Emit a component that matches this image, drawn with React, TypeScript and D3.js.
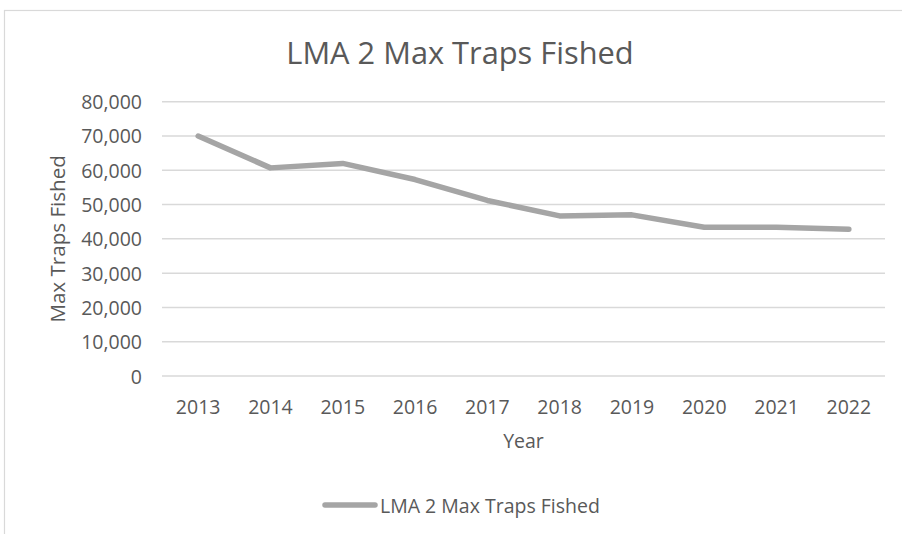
import React from "react";
import * as d3 from "d3";

const years = ["2013", "2014", "2015", "2016", "2017", "2018", "2019", "2020", "2021", "2022"];
const maxTraps = [70000, 60700, 62000, 57300, 51200, 46700, 47000, 43400, 43400, 42800];
const yTicks = [0, 10000, 20000, 30000, 40000, 50000, 60000, 70000, 80000];
const seriesName = "LMA 2 Max Traps Fished";
const chartTitle = "LMA 2 Max Traps Fished";
const xTitle = "Year";
const yTitle = "Max Traps Fished";

const W = 902;
const H = 534;
const FONT = "'Open Sans', sans-serif";
const TXT = "#595959";

export default function App() {
  const plotLeft = 162;
  const plotRight = 885;
  const plotTop = 101.7;
  const plotBottom = 376;

  const x = d3.scaleBand().domain(years).range([plotLeft, plotRight]).padding(0);
  const y = d3.scaleLinear().domain([0, 80000]).range([plotBottom, plotTop]);
  const fmt = d3.format(",");

  const line = d3
    .line<number>()
    .x((_, i) => (x(years[i]) as number) + x.bandwidth() / 2)
    .y((d) => y(d));

  return (
    <svg width={W} height={H} style={{ position: "absolute", left: 0, top: 0, background: "#fff" }}>
      <rect x={0} y={0} width={W} height={H} fill="#fff" />
      <rect x={4.5} y={10.5} width={W + 10} height={H + 10} fill="#fff" stroke="#d9d9d9" strokeWidth={1.2} />
      <text x={460} y={52} textAnchor="middle" dominantBaseline="central" fontFamily={FONT} fontSize={30.8} fill={TXT}>
        {chartTitle}
      </text>
      {yTicks.map((t) => (
        <g key={t}>
          <line x1={plotLeft} x2={plotRight} y1={y(t)} y2={y(t)} stroke="#d9d9d9" strokeWidth={1.5} />
          <text x={142} y={y(t)} textAnchor="end" dominantBaseline="central" fontFamily={FONT} fontSize={19.5} fill={TXT}>
            {fmt(t)}
          </text>
        </g>
      ))}
      {years.map((yr) => (
        <text
          key={yr}
          x={(x(yr) as number) + x.bandwidth() / 2}
          y={406}
          textAnchor="middle"
          dominantBaseline="central"
          fontFamily={FONT}
          fontSize={19.5}
          fill={TXT}
        >
          {yr}
        </text>
      ))}
      <text x={(plotLeft + plotRight) / 2} y={440} textAnchor="middle" dominantBaseline="central" fontFamily={FONT} fontSize={19.5} fill={TXT}>
        {xTitle}
      </text>
      <text
        transform={`translate(57,${(plotTop + plotBottom) / 2}) rotate(-90)`}
        textAnchor="middle"
        dominantBaseline="central"
        fontFamily={FONT}
        fontSize={20.6}
        fill={TXT}
      >
        {yTitle}
      </text>
      <path d={line(maxTraps) || ""} fill="none" stroke="#a5a5a5" strokeWidth={5.5} strokeLinecap="round" strokeLinejoin="round" />
      <line x1={325} x2={375} y1={505} y2={505} stroke="#a5a5a5" strokeWidth={5.5} strokeLinecap="round" />
      <text x={380} y={505} dominantBaseline="central" fontFamily={FONT} fontSize={19.5} fill={TXT}>
        {seriesName}
      </text>
    </svg>
  );
}
